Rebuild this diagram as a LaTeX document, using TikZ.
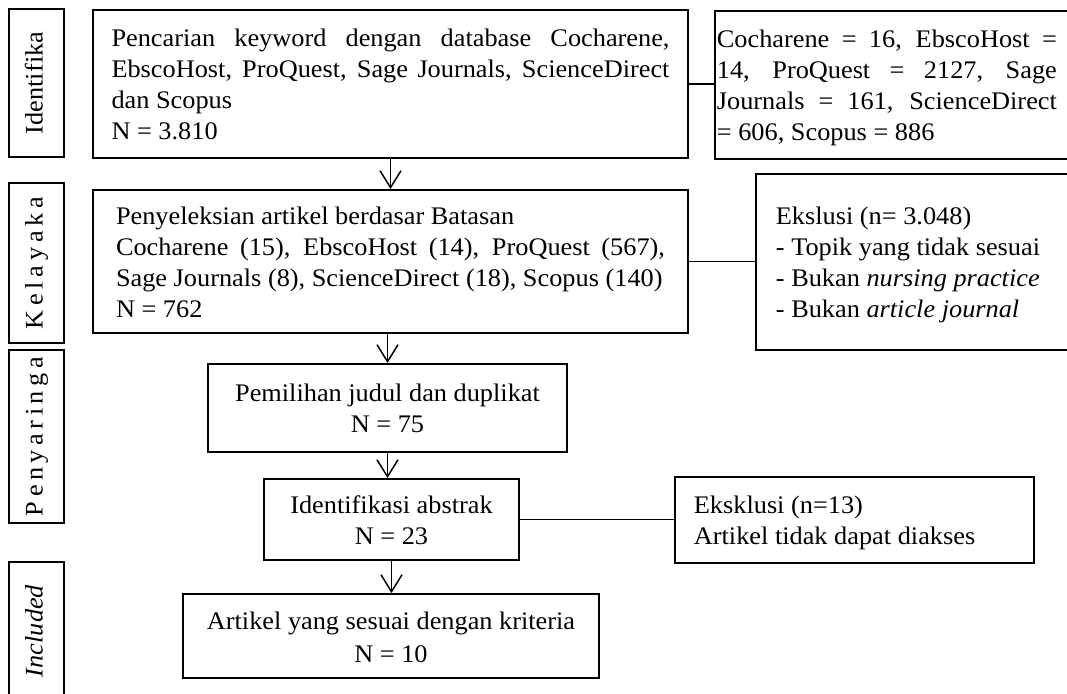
\documentclass[tikz,border=0pt]{standalone}
\usepackage{fontspec}
\setmainfont{Liberation Serif}[FakeStretch=1.04]
\usetikzlibrary{arrows.meta}
\newcommand\jl[2]{\makebox[#1][s]{#2}}
\newcommand\lowtxt[1]{\raisebox{-3pt}[\height][\depth]{#1}}
\begin{document}
\begin{tikzpicture}[x=1pt,y=-1pt,
  txt/.style={font=\fontsize{25.3}{31}\selectfont},
  box/.style={draw, line width=1.8pt, inner sep=0pt, txt},
  side/.style={draw, line width=1.8pt, inner sep=0pt, rotate=90, minimum height=55pt,
               text height=17pt, text depth=5pt, txt},
  arr/.style={line width=1.5pt, -{Straight Barb[length=17pt,width=21pt,line width=1.5pt]}},
  conn/.style={line width=1.5pt}]
\fill[white] (0,0) rectangle (1067,693);
\useasboundingbox (0,0) rectangle (1067,693);

% side labels
\node[side, minimum width=148pt] (s1) at (36.5,83) {Identifika};
\node[side, minimum width=160pt] (s2) at (36.5,263) {\makebox[133pt]{K\hfill e\hfill l\hfill a\hfill y\hfill a\hfill k\hfill a}};
\node[side, minimum width=173pt] (s3) at (36.5,436.5) {\makebox[159pt]{P\hfill e\hfill n\hfill y\hfill a\hfill r\hfill i\hfill n\hfill g\hfill a}};
\node[side, minimum width=138pt] (s4) at (36.5,631) {\textit{Included}};

% main boxes
\node[box, minimum width=595pt, minimum height=148pt] (b1) at (390.5,84) {\lowtxt{\begin{tabular}{@{}l@{}}
\jl{558pt}{Pencarian keyword dengan database Cocharene,}\\
\jl{558pt}{EbscoHost, ProQuest, Sage Journals, ScienceDirect}\\
dan Scopus\\
N = 3.810
\end{tabular}}};

\node[box, minimum width=595pt, minimum height=143pt] (b2) at (390.5,261.5) {\lowtxt{\begin{tabular}{@{}l@{}}
Penyeleksian artikel berdasar Batasan\\
\jl{549pt}{Cocharene (15), EbscoHost (14), ProQuest (567),}\\
Sage Journals (8), ScienceDirect (18), Scopus (140)\\
N = 762
\end{tabular}}};

\node[box, minimum width=359pt, minimum height=88pt] (b3) at (387.5,408) {\lowtxt{\begin{tabular}{@{}c@{}}
Pemilihan judul dan duplikat\\
N = 75
\end{tabular}}};

\node[box, minimum width=255pt, minimum height=81pt] (b4) at (391.5,519.5) {\lowtxt{\begin{tabular}{@{}c@{}}
Identifikasi abstrak\\
N = 23
\end{tabular}}};

\node[box, minimum width=416pt, minimum height=84pt, font=\fontsize{25.3}{33}\selectfont] (b5) at (391,636) {\lowtxt{\begin{tabular}{@{}c@{}}
Artikel yang sesuai dengan kriteria\\
N = 10
\end{tabular}}};

% right boxes
\node[box, anchor=north west, minimum width=366pt, minimum height=148pt] (r1) at (714,10) {\makebox[366pt][l]{\hspace{2pt}\lowtxt{\begin{tabular}{@{}l@{}}
\jl{340pt}{Cocharene = 16, EbscoHost =}\\
\jl{340pt}{14, ProQuest = 2127, Sage}\\
\jl{340pt}{Journals = 161, ScienceDirect}\\
= 606, Scopus = 886
\end{tabular}}}};

\node[box, anchor=north west, minimum width=330pt, minimum height=176pt] (r2) at (755,173) {\makebox[330pt][l]{\hspace{20pt}\lowtxt{\begin{tabular}{@{}l@{}}
Ekslusi (n= 3.048)\\
- Topik yang tidak sesuai\\
- Bukan \textit{nursing practice}\\
- Bukan \textit{article journal}
\end{tabular}}}};

\node[box, anchor=north west, minimum width=359pt, minimum height=86pt] (r3) at (674,476) {\makebox[359pt][l]{\hspace{19pt}\lowtxt{\begin{tabular}{@{}l@{}}
Eksklusi (n=13)\\
Artikel tidak dapat diakses
\end{tabular}}}};

% connectors
\draw[arr] (b1.south) -- (b2.north);
\draw[arr] (b2.south -| b3.north) -- (b3.north);
\draw[arr] (b3.south) -- (b3.south |- b4.north);
\draw[arr] (b4.south) -- (b4.south |- b5.north);
\draw[conn] (b1.east) -- (b1.east -| r1.west);
\draw[conn] (b2.east) -- (b2.east -| r2.west);
\draw[conn] (b4.east) -- (b4.east -| r3.west);
\end{tikzpicture}
\end{document}
